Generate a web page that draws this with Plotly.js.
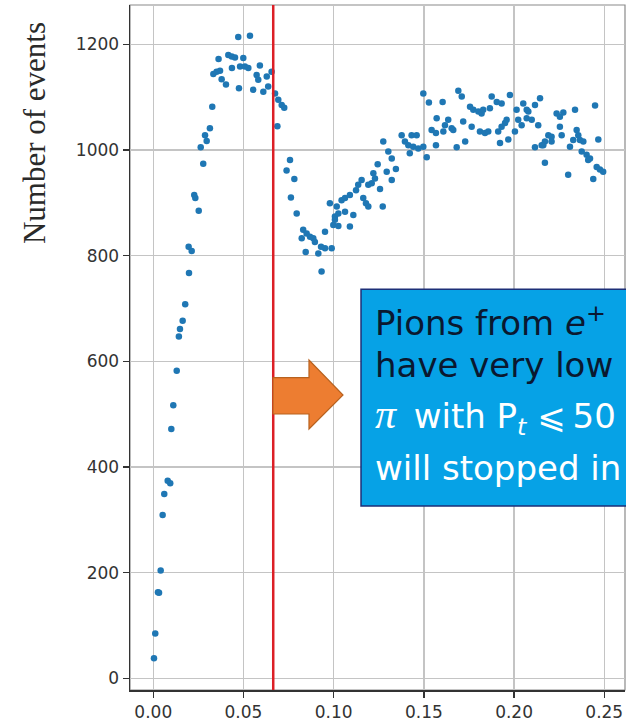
<!DOCTYPE html>
<html>
<head>
<meta charset="utf-8">
<script src="https://cdn.plot.ly/plotly-3.0.1.min.js"></script>
<style>html,body{margin:0;padding:0;background:#fff;}#chart{width:626px;height:721px;}</style>
</head>
<body>
<div id="chart"></div>
<script>
// Transverse momentum (GeV) of scattered points
const ptValues = [
0.0004,0.0011,0.0026,0.0032,0.0041,0.0052,0.0061,0.0080,0.0094,0.0100,
0.0111,0.0130,0.0142,0.0148,0.0163,0.0177,0.0198,0.0196,0.0213,0.0227,
0.0233,0.0252,0.0277,0.0263,0.0287,0.0296,0.0314,0.0327,0.0333,0.0351,
0.0370,0.0379,0.0362,0.0403,0.0416,0.0435,0.0453,0.0436,0.0471,0.0536,
0.0475,0.0481,0.0499,0.0527,0.0508,0.0554,0.0573,0.0582,0.0591,0.0610,
0.0629,0.0637,0.0656,0.0675,0.0693,0.0712,0.0726,0.0688,0.0758,0.0739,
0.0782,0.0763,0.0795,0.0831,0.0850,0.0869,0.0887,0.0823,0.0896,0.0845,
0.0915,0.0952,0.0930,0.0933,0.0952,0.0979,0.1007,0.1026,0.0998,0.1044,
0.0989,0.1017,0.1063,0.1007,0.1109,0.1026,0.1090,0.1063,0.1090,0.1164,
0.1179,0.1192,0.1272,0.1155,0.1136,0.1124,0.1192,0.1211,0.1257,0.1244,
0.1220,0.1229,0.1345,0.1322,0.1294,0.1303,0.1322,0.1275,0.1377,0.1395,
0.1432,0.1460,0.1414,0.1441,0.1469,0.1497,0.1422,0.1516,0.1567,0.1497,
0.1528,0.1571,0.1543,0.1567,0.1691,0.1710,0.1604,0.1876,0.1904,0.1931,
0.1977,0.1756,0.1774,0.1802,0.1820,0.1829,0.1866,0.1635,0.1617,0.1654,
0.1663,0.1718,0.1608,0.1765,0.1811,0.1839,0.1857,0.1912,0.1959,0.1950,
0.1931,0.1729,0.1682,0.1922,0.1968,0.2014,0.2023,0.2042,0.2051,0.2070,
0.2005,0.2070,0.2079,0.2116,0.2144,0.2098,0.2134,0.2236,0.2273,0.2338,
0.2449,0.2254,0.2254,0.2264,0.2190,0.2208,0.2171,0.2208,0.2162,0.2116,
0.2153,0.2347,0.2356,0.2365,0.2384,0.2328,0.2310,0.2467,0.2375,0.2402,
0.2421,0.2411,0.2171,0.2458,0.2476,0.2494,0.2300,0.2439
];
// Number of events for each point
const eventCounts = [
38,85,163,162,204,309,349,374,369,472,
517,582,647,661,677,708,767,817,809,915,
909,885,974,1005,1028,1017,1041,1082,1144,1148,
1150,1134,1172,1124,1180,1177,1175,1155,1214,1216,
1117,1158,1174,1155,1158,1114,1142,1133,1160,1110,
1139,1120,1148,1107,1095,1085,1080,1045,981,961,
945,910,880,849,842,836,833,833,826,807,
804,814,817,770,845,899,874,880,858,905,
814,893,883,868,877,856,855,909,915,909,
899,893,893,943,934,924,934,937,926,973,
956,946,964,943,959,997,984,1016,1028,1016,
1028,1028,1009,1006,1003,1006,994,986,1009,1107,
1090,1060,1038,1032,1112,1101,1091,1101,1091,1088,
1104,1082,1076,1073,1069,1076,1079,1057,1047,1041,
1038,1054,1035,1044,1035,1032,1035,1035,1057,1051,
1044,1016,1005,1013,1020,1076,1057,1047,1088,1060,
1035,1076,1073,1085,1098,1057,1047,1069,1071,1076,
1084,1063,1044,1028,1028,1025,1016,1016,1009,1005,
1009,1038,1028,1019,1016,1019,1006,1020,997,991,
984,981,976,968,963,959,953,945
];
const cutValue = 0.0665;
const xTickVals = [0, 0.05, 0.10, 0.15, 0.20, 0.25];
const xTickText = ["0.00", "0.05", "0.10", "0.15", "0.20", "0.25"];
const yTickVals = [0, 200, 400, 600, 800, 1000, 1200];
const yTitle = "Number of events";
const boxLines = [
  "Pions from <i>e</i><sup>+</sup>",
  "have very low",
  "<span style=\"font-family:'Liberation Serif';font-size:42px\"><i>π</i></span>\u2009 with P<sub><i>t</i></sub> ⩽\u200950",
  "will stopped in"
];
const boxColors = ["#0a1830", "#0a1830", "#ffffff", "#ffffff"];

const trace = {
  x: ptValues, y: eventCounts, type: 'scatter', mode: 'markers',
  marker: {color: '#1f77b4', size: 6.5}, hoverinfo: 'skip', showlegend: false
};

const lineYs = [0.5385, 0.4745, 0.3995, 0.3240];
const annotations = boxLines.map((t, i) => ({
  xref: 'paper', yref: 'paper', x: 0.490, y: lineYs[i],
  xanchor: 'left', yanchor: 'middle', showarrow: false, text: t,
  font: {family: 'DejaVu Sans', size: 34, color: boxColors[i]}
}));
annotations.push({
  xref: 'paper', yref: 'paper', x: -0.194, y: 0.8130, xanchor: 'center', yanchor: 'middle',
  textangle: -90, showarrow: false, text: yTitle,
  font: {family: 'Liberation Serif', size: 31, color: '#2a2a2a'}
});

const layout = {
  width: 626, height: 721,
  margin: {l: 130, r: 1, t: 5, b: 31},
  paper_bgcolor: '#ffffff', plot_bgcolor: '#ffffff',
  xaxis: {
    range: [-0.0129, 0.2615], tickvals: xTickVals, ticktext: xTickText,
    showgrid: true, gridcolor: '#c4c4c4', gridwidth: 1.3, zeroline: false,
    showline: true, linecolor: '#333', linewidth: 1.5,
    ticks: 'outside', ticklen: 6, tickcolor: '#333', tickwidth: 1.3,
    tickfont: {family: 'DejaVu Sans', size: 17, color: '#333333'}
  },
  yaxis: {
    range: [-22.1, 1274.4], tickvals: yTickVals,
    showgrid: true, gridcolor: '#c4c4c4', gridwidth: 1.3, zeroline: false,
    showline: true, linecolor: '#333', linewidth: 1.5,
    ticks: 'outside', ticklen: 6, tickcolor: '#333', tickwidth: 1.3,
    tickfont: {family: 'DejaVu Sans', size: 17, color: '#333333'}
  },
  shapes: [
    {type: 'rect', xref: 'paper', yref: 'paper', x0: 0, x1: 1, y0: 0, y1: 1,
     line: {color: '#8a8a8a', width: 1.2}, layer: 'below'},
    {type: 'line', xref: 'x', yref: 'paper', x0: cutValue, x1: cutValue, y0: 0, y1: 1,
     line: {color: '#dc1f26', width: 2.5}},
    {type: 'path', xref: 'paper', yref: 'paper',
     path: 'M 0.2889 0.4559 L 0.3616 0.4559 L 0.3616 0.4818 L 0.4303 0.4307 L 0.3616 0.3810 L 0.3616 0.4029 L 0.2889 0.4029 Z',
     fillcolor: '#ed7d31', line: {color: '#b8621f', width: 1.2}},
    {type: 'rect', xref: 'paper', yref: 'paper', x0: 0.4667, x1: 1.08, y0: 0.2686, y1: 0.585,
     fillcolor: '#06a2e6', line: {color: '#1d2f78', width: 1.5}}
  ],
  annotations: annotations
};

Plotly.newPlot('chart', [trace], layout, {displayModeBar: false, staticPlot: true});
</script>
</body>
</html>
